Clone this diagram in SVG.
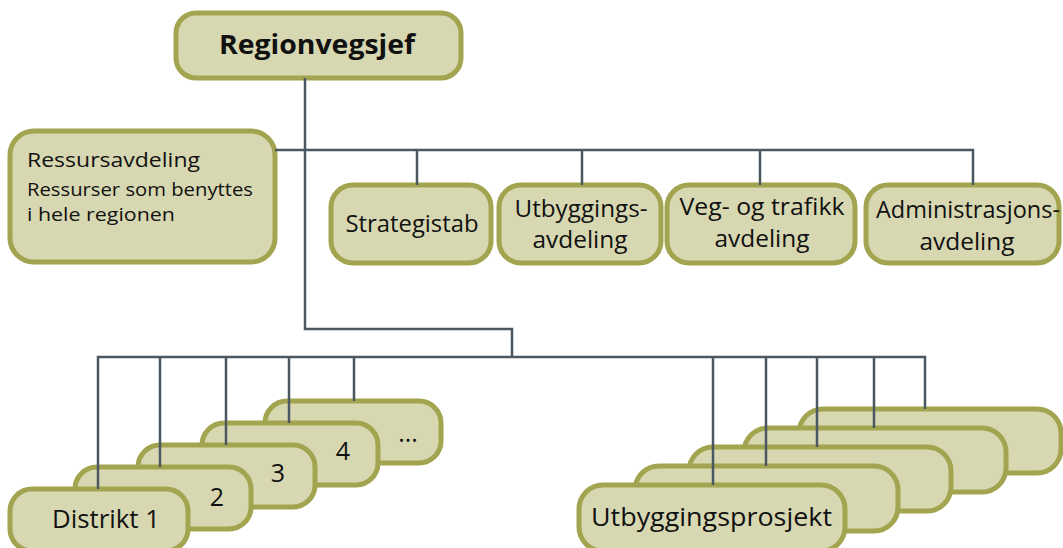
<svg xmlns="http://www.w3.org/2000/svg" width="1063" height="548" viewBox="0 0 1063 548">
  <style>
    .box { fill: #d7d8b1; stroke: #a3a44f; stroke-width: 5; }
    .lbl { font-family: "Open Sans", "Noto Sans", sans-serif; fill: #111; }
    .c { text-anchor: middle; }
    .link { fill: none; stroke: #4b5761; stroke-width: 2.5; }
  </style>
  <rect width="1063" height="548" fill="#fff"/>

  <g id="regionvegsjef">
    <rect class="box" x="176" y="13" width="285" height="65" rx="20"/>
    <text class="lbl c" x="317" y="54" font-size="26.5" font-weight="bold" textLength="196" lengthAdjust="spacingAndGlyphs">Regionvegsjef</text>
  </g>

  <g id="ressursavdeling">
    <rect class="box" x="10" y="131" width="265" height="131" rx="24"/>
    <text class="lbl" x="27" y="167" font-size="20" textLength="173" lengthAdjust="spacingAndGlyphs">Ressursavdeling</text>
    <text class="lbl" x="27" y="196" font-size="18" textLength="226" lengthAdjust="spacingAndGlyphs">Ressurser som benyttes</text>
    <text class="lbl" x="27" y="221" font-size="18" textLength="148" lengthAdjust="spacingAndGlyphs">i hele regionen</text>
  </g>

  <g id="strategistab">
    <rect class="box" x="331" y="185" width="160" height="78" rx="22"/>
    <text class="lbl c" x="412" y="232" font-size="23" textLength="133" lengthAdjust="spacingAndGlyphs">Strategistab</text>
  </g>

  <g id="utbyggingsavdeling">
    <rect class="box" x="499" y="185" width="162" height="78" rx="22"/>
    <text class="lbl c" x="581" y="217" font-size="23" textLength="133" lengthAdjust="spacingAndGlyphs">Utbyggings-</text>
    <text class="lbl c" x="580" y="248" font-size="23" textLength="95" lengthAdjust="spacingAndGlyphs">avdeling</text>
  </g>

  <g id="veg-og-trafikkavdeling">
    <rect class="box" x="667" y="185" width="188" height="78" rx="22"/>
    <text class="lbl c" x="762" y="215" font-size="23" textLength="165" lengthAdjust="spacingAndGlyphs">Veg- og trafikk</text>
    <text class="lbl c" x="762" y="247" font-size="23" textLength="95" lengthAdjust="spacingAndGlyphs">avdeling</text>
  </g>

  <g id="administrasjonsavdeling">
    <rect class="box" x="866" y="185" width="193" height="78" rx="22"/>
    <text class="lbl c" x="968" y="218" font-size="23" textLength="184" lengthAdjust="spacingAndGlyphs">Administrasjons-</text>
    <text class="lbl c" x="967" y="250" font-size="23" textLength="95" lengthAdjust="spacingAndGlyphs">avdeling</text>
  </g>

  <!-- district stack, back to front -->
  <g id="distrikt-5">
    <rect class="box" x="265" y="401" width="176" height="62" rx="22"/>
    <text class="lbl c" x="408" y="442" font-size="25">...</text>
  </g>
  <g id="distrikt-4">
    <rect class="box" x="202" y="423" width="176" height="62" rx="22"/>
    <text class="lbl c" x="343" y="460" font-size="25">4</text>
  </g>
  <g id="distrikt-3">
    <rect class="box" x="138" y="445" width="177" height="62" rx="22"/>
    <text class="lbl c" x="278" y="482" font-size="25">3</text>
  </g>
  <g id="distrikt-2">
    <rect class="box" x="75" y="467" width="176" height="62" rx="22"/>
    <text class="lbl c" x="217" y="506" font-size="25">2</text>
  </g>
  <g id="distrikt-1">
    <rect class="box" x="10" y="489" width="178" height="62" rx="22"/>
    <text class="lbl" x="52" y="528" font-size="25" textLength="108" lengthAdjust="spacingAndGlyphs">Distrikt 1</text>
  </g>

  <!-- project stack, back to front -->
  <g id="prosjekt-5">
    <rect class="box" x="799" y="409" width="262" height="64" rx="24"/>
  </g>
  <g id="prosjekt-4">
    <rect class="box" x="744" y="428" width="262" height="64" rx="24"/>
  </g>
  <g id="prosjekt-3">
    <rect class="box" x="689" y="447" width="262" height="64" rx="24"/>
  </g>
  <g id="prosjekt-2">
    <rect class="box" x="635" y="466" width="263" height="65" rx="24"/>
  </g>
  <g id="prosjekt-1">
    <rect class="box" x="579" y="485" width="266" height="66" rx="24"/>
    <text class="lbl" x="591" y="526" font-size="26" textLength="241" lengthAdjust="spacingAndGlyphs">Utbyggingsprosjekt</text>
  </g>

  <g id="connectors" class="link">
    <!-- head to staff line and down to the field level -->
    <polyline points="305,78 305,329 512,329 512,357"/>
    <polyline points="275,150 973,150 973,185"/>
    <line x1="417" y1="150" x2="417" y2="185"/>
    <line x1="582" y1="150" x2="582" y2="185"/>
    <line x1="760" y1="150" x2="760" y2="185"/>
    <!-- field level bus -->
    <polyline points="98,489 98,357 925,357 925,409"/>
    <line x1="160" y1="357" x2="160" y2="467"/>
    <line x1="226" y1="357" x2="226" y2="445"/>
    <line x1="289" y1="357" x2="289" y2="423"/>
    <line x1="354" y1="357" x2="354" y2="401"/>
    <line x1="713" y1="357" x2="713" y2="485"/>
    <line x1="766" y1="357" x2="766" y2="466"/>
    <line x1="817" y1="357" x2="817" y2="447"/>
    <line x1="874" y1="357" x2="874" y2="428"/>
  </g>
</svg>
